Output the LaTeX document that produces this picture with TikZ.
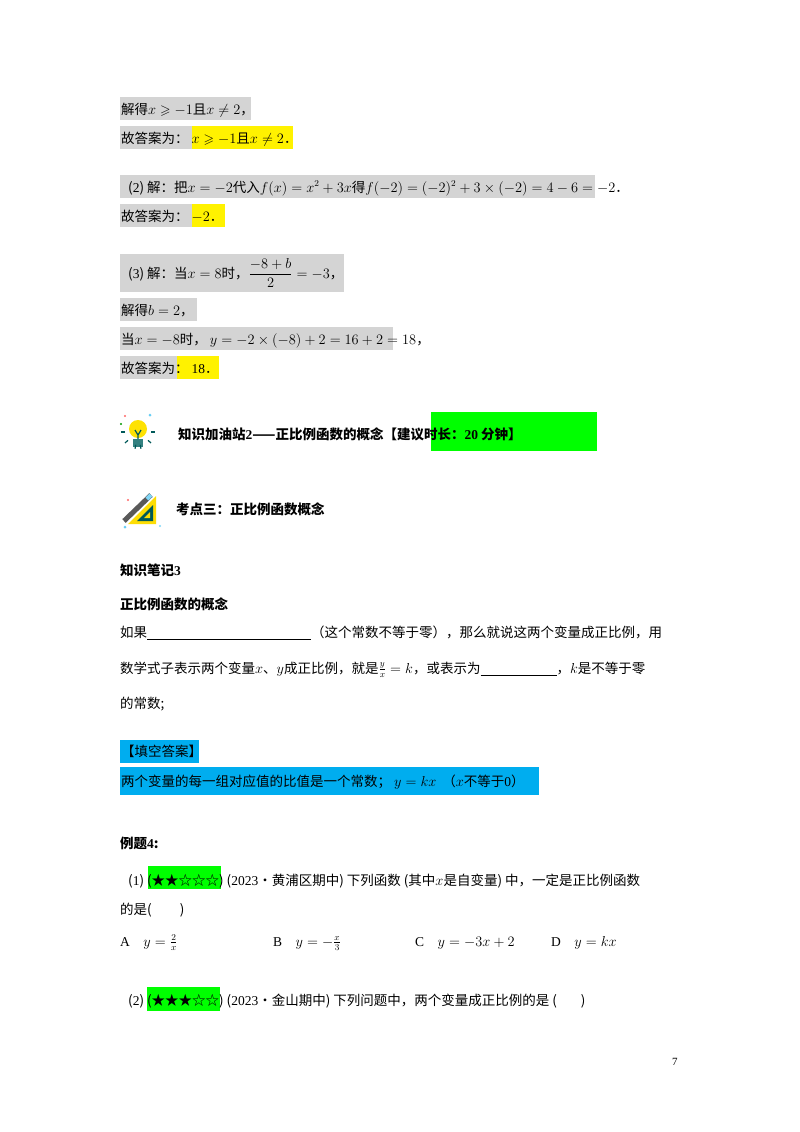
\documentclass[tikz,border=0pt]{standalone}
\usepackage{amssymb}
\usepackage{fontspec}
\setmainfont{Noto Sans CJK SC}
\newfontfamily\tnr{Liberation Serif}
\newcommand{\fs}{\fontsize{13.5}{16}\selectfont}
\begin{document}
\begin{tikzpicture}[x=1pt,y=-1pt,
  t/.style={anchor=base west,inner sep=0pt,font=\fs},
  b/.style={anchor=base west,inner sep=0pt,font=\fs\bfseries},
  gbox/.style={fill=black!17,draw=none},
  ybox/.style={fill=yellow,draw=none},
  grn/.style={fill=green,draw=none},
  cyn/.style={fill=cyan,draw=none}]
\useasboundingbox[fill=white] (0,0) rectangle (800,1132);
% --- boxes
\fill[gbox] (120,97) rectangle (251,120);
\fill[gbox] (120,126) rectangle (192,149); \fill[ybox] (192,126) rectangle (293,149);
\fill[gbox] (120,175) rectangle (595,198);
\fill[gbox] (120,204) rectangle (192,227); \fill[ybox] (192,204) rectangle (225,227);
\fill[gbox] (120,254) rectangle (344,292);
\fill[gbox] (120,298) rectangle (197,321);
\fill[gbox] (120,327) rectangle (393,350);
\fill[gbox] (120,356) rectangle (177,379); \fill[ybox] (177,356) rectangle (219,379);
\fill[grn] (431,412) rectangle (597,451);
\fill[cyn] (120,740) rectangle (199,763);
\fill[cyn] (120,767) rectangle (539,795);
\fill[grn] (148,866) rectangle (221,889);
\fill[grn] (147,987) rectangle (220,1011);
% --- text
\node[t] (l1) at (121,114) {解得$x\geqslant-1$且$x\neq2$，};
\node[t] (l2) at (121,143) {故答案为：\ $x\geqslant-1$且$x\neq2$．};
\node[t] (l3) at (128,192) {({\tnr 2}) 解：把$x=-2$代入$f(x)=x^2+3x$得$f(-2)=(-2)^2+3\times(-2)=4-6=-2$．};
\node[t] (l4) at (121,221) {故答案为：\ $-2$．};
\node[t] (l5) at (128,278) {({\tnr 3}) 解：当$x=8$时，$\displaystyle\frac{-8+b}{2}=-3$，};
\node[t] (l6) at (121,315) {解得$b=2$，};
\node[t] (l7) at (121,344) {当$x=-8$时，\ $y=-2\times(-8)+2=16+2=18$，};
\node[t] (l8) at (121,373) {故答案为：\ {\tnr 18}．};
% bulb icon
\begin{scope}[shift={(138,432)}]
  \fill[yellow!85!orange] (0,-3) circle (9);
  \draw[teal!70!black,line width=1.2pt] (-3,-2) -- (0,3) -- (3,-2) (0,3) -- (0,8);
  \fill[teal!60!gray] (-5,7) rectangle (5,15);
  \foreach \a in {0,40,80,100,140,180}{\draw[teal!70!black,line width=1.2pt] (\a:13) -- (\a:17);}
  \fill[red!60] (-13,-16) circle (1.2); \fill[cyan!60] (12,-17) circle (1.5); \fill[green!60!black] (-17,-8) circle (1.2);
\end{scope}
\node[b] (h1) at (178,439) {知识加油站{\tnr\bfseries 2}——正比例函数的概念【建议时长：{\tnr\bfseries 20} 分钟】};
% pencil icon
\begin{scope}[shift={(140,508)}]
  \fill[yellow!80!orange] (-12,16) -- (16,16) -- (16,-12) -- cycle;
  \fill[teal!70!black] (-3,13) -- (13,13) -- (13,-3) -- cycle;
  \fill[yellow!80!orange] (4,10) -- (10,10) -- (10,4) -- cycle;
  \draw[gray!70!black,line width=5pt] (-16,13) -- (11,-13);
  \draw[cyan!50,line width=4pt] (7,-9) -- (11,-13);
  \fill[red!60] (-12,-8) circle (1.2); \fill[cyan!60] (-15,19) circle (1.5); \fill[cyan!50] (20,18) circle (1.2);
\end{scope}
\node[b] (h2) at (176,514) {考点三：正比例函数概念};
\node[b] (h3) at (120,575) {知识笔记{\tnr\bfseries 3}};
\node[b] (h4) at (120,609) {正比例函数的概念};
\node[t] (p1) at (120,637) {如果\underline{\hspace{164pt}}（这个常数不等于零），那么就说这两个变量成正比例，用};
\node[t] (p2) at (120,673) {数学式子表示两个变量$x$、$y$成正比例，就是$\frac{y}{x}=k$，或表示为\underline{\hspace{76pt}}，$k$是不等于零};
\node[t] (p3) at (120,708) {的常数;};
\node[t] (a1) at (121,756) {【填空答案】};
\node[t] (a2) at (121,786) {两个变量的每一组对应值的比值是一个常数；\ $y=kx$ \ （$x$不等于{\tnr 0}）};
\node[b] (e4) at (120,848) {例题{\tnr\bfseries 4}:};
\node[t] (q1) at (128,885) {({\tnr 1}) (★★☆☆☆) ({\tnr 2023}•黄浦区期中) 下列函数 (其中$x$是自变量) 中，一定是正比例函数};
\node[t] (q1b) at (120,914) {的是(\hspace{28pt})};
\node[t] (oa) at (120,946) {{\tnr A．} $y=\frac{2}{x}$};
\node[t] (ob) at (273,946) {{\tnr B．} $y=-\frac{x}{3}$};
\node[t] (oc) at (415,946) {{\tnr C．} $y=-3x+2$};
\node[t] (od) at (551,946) {{\tnr D．} $y=kx$};
\node[t] (q2) at (128,1005) {({\tnr 2}) (★★★☆☆) ({\tnr 2023}•金山期中) 下列问题中，两个变量成正比例的是 (\hspace{24pt})};
\node[t] (pg) at (672,1065) {{\tnr\fontsize{11}{12}\selectfont 7}};
\end{tikzpicture}
\end{document}
